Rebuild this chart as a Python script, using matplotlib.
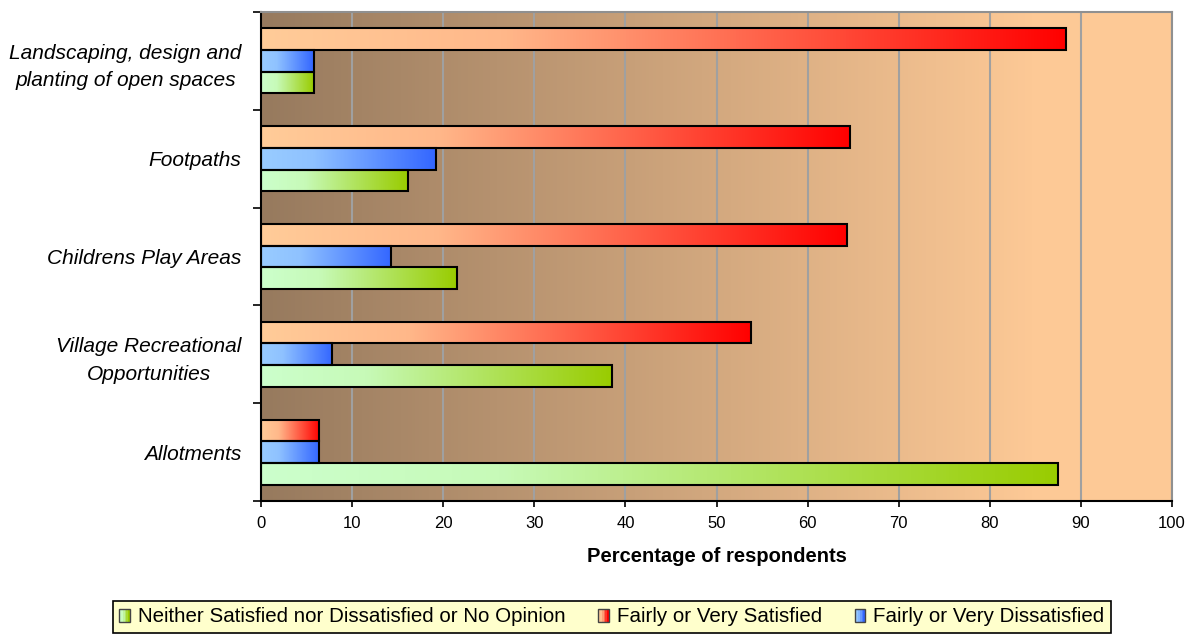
import numpy as np
import matplotlib
matplotlib.use("Agg")
import matplotlib.pyplot as plt
from matplotlib.colors import LinearSegmentedColormap, to_rgb
from matplotlib.patches import Rectangle
from matplotlib.legend_handler import HandlerBase

# data, categories listed top to bottom
categories = ["Landscaping, design and\nplanting of open spaces", "Footpaths",
              "Childrens Play Areas", "Village Recreational\nOpportunities", "Allotments"]
satisfied = [88.4, 64.7, 64.3, 53.8, 6.4]
dissatisfied = [5.8, 19.2, 14.3, 7.8, 6.4]
neither = [5.8, 16.1, 21.5, 38.5, 87.5]
series_names = ["Neither Satisfied nor Dissatisfied or No Opinion",
                "Fairly or Very Satisfied", "Fairly or Very Dissatisfied"]
xticks = list(range(0, 101, 10))

plt.rcParams['font.family'] = ['Liberation Sans', 'DejaVu Sans']


def grad_cmap(light, dark):
    l, d = np.array(to_rgb(light)), np.array(to_rgb(dark))
    return LinearSegmentedColormap.from_list("g", [(0, l), (0.3, l + 0.1 * (d - l)), (1, d)])


cm_sat = grad_cmap("#ffcc99", "#ff0000")
cm_dis = grad_cmap("#99ccff", "#3366ff")
cm_nei = grad_cmap("#ccffcc", "#99cc00")

fig = plt.figure(figsize=(11.89, 6.42), dpi=100)
ax = fig.add_axes([261 / 1189, 1 - 501 / 642, (1172 - 261) / 1189, (501 - 12) / 642])

# background gradient
bg = LinearSegmentedColormap.from_list("bg", [(0, "#977a5e"), (0.85, "#fdc996"), (1, "#fdc996")])
ax.imshow(np.linspace(0, 1, 256)[None, :], cmap=bg, aspect="auto",
          extent=[0, 100, 4.5, -0.5], zorder=0, interpolation="bilinear")

y = np.arange(len(categories))
h = 0.222
for vals, off, cm in [(satisfied, -h, cm_sat), (dissatisfied, 0, cm_dis), (neither, h, cm_nei)]:
    bars = ax.barh(y + off, vals, height=h, facecolor="none", edgecolor="black",
                   linewidth=1.5, zorder=3)
    for b in bars:
        x0, y0, w, hh = b.get_x(), b.get_y(), b.get_width(), b.get_height()
        ax.imshow(np.linspace(0, 1, 256)[None, :], cmap=cm, aspect="auto",
                  extent=[x0, x0 + w, y0 + hh, y0], zorder=2, interpolation="bilinear")

ax.set_xlim(0, 100)
ax.set_ylim(4.5, -0.5)
ax.set_xticks(xticks)
ax.xaxis.grid(True, color="#a0a0a0", linewidth=1.5)
ax.set_axisbelow(True)
for g in ax.get_xgridlines():
    g.set_zorder(1)
ax.tick_params(axis="x", length=4, width=1.2, labelsize=12, pad=7)

ax.set_yticks(np.arange(-0.5, 5, 1))
ax.set_yticklabels([])
ax.set_yticks(y, minor=True)
ax.set_yticklabels(categories, minor=True, fontsize=15, style="italic",
                   multialignment="center", linespacing=1.55)
ax.tick_params(axis="y", which="major", length=6, width=1.2)
ax.tick_params(axis="y", which="minor", length=0, pad=14)

ax.spines["left"].set_linewidth(1.5)
ax.spines["bottom"].set_linewidth(1.5)
for s in ["top", "right"]:
    ax.spines[s].set_color("#909090")
    ax.spines[s].set_linewidth(1.5)

ax.set_xlabel("Percentage of respondents", fontsize=14.5, fontweight="bold", labelpad=11)


class GradHandler(HandlerBase):
    def __init__(self, cmap):
        super().__init__()
        self.cmap = cmap

    def create_artists(self, legend, orig_handle, xdescent, ydescent, width, height,
                       fontsize, trans):
        arts = []
        n = 6
        for i in range(n):
            arts.append(Rectangle((-xdescent + i * width / n, -ydescent), width / n, height,
                                  facecolor=self.cmap(i / (n - 1)), edgecolor="none",
                                  transform=trans))
        arts.append(Rectangle((-xdescent, -ydescent), width, height, facecolor="none",
                              edgecolor="#444444", linewidth=1, transform=trans))
        return arts


handles = [Rectangle((0, 0), 1, 1) for _ in range(3)]
cmaps = [cm_nei, cm_sat, cm_dis]
leg = fig.legend(handles, series_names, loc="center right", ncol=3,
                 bbox_to_anchor=(1121 / 1189, 1 - 617 / 642),
                 handler_map={hd: GradHandler(c) for hd, c in zip(handles, cmaps)},
                 prop={"size": 14.8}, handlelength=0.5, handleheight=0.6,
                 handletextpad=0.4, columnspacing=1.6, borderpad=0.3,
                 fancybox=False, frameon=True)
leg.get_frame().set_facecolor("#ffffcc")
leg.get_frame().set_edgecolor("black")
leg.get_frame().set_linewidth(1.2)
leg.get_frame().set_alpha(1)

fig.savefig("out.png", dpi=100)
